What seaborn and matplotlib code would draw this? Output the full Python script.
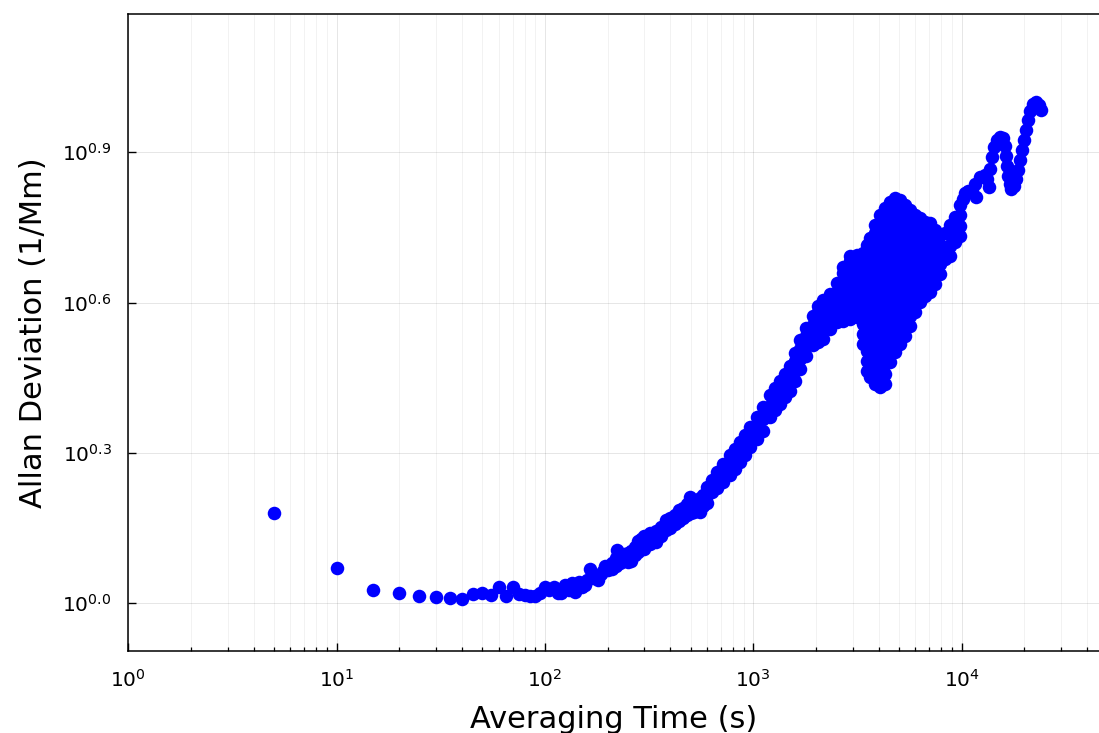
import numpy as np
import pandas as pd
import matplotlib
matplotlib.use("Agg")
import matplotlib.pyplot as plt
import seaborn as sns
from matplotlib.ticker import FixedLocator, FixedFormatter, NullLocator, LogLocator

# ---------------- data ----------------
# averaging time tau [s] and log10 of the Allan deviation [1/Mm]
# isolated points at short averaging times
tau_single = [5, 10, 15, 20, 25, 30, 35, 40, 45, 50, 55, 60, 65, 70, 75, 80, 85, 90, 95, 100,
              105, 110, 115, 120, 125, 130, 135, 140, 145, 150, 155, 160, 165, 170, 175, 180,
              185, 190, 195, 200]
log_single = [0.180, 0.070, 0.027, 0.021, 0.015, 0.013, 0.011, 0.009, 0.019, 0.021, 0.016, 0.033,
              0.014, 0.033, 0.018, 0.017, 0.014, 0.014, 0.020, 0.033,
              0.026, 0.033, 0.020, 0.020, 0.036, 0.026, 0.040, 0.023, 0.043, 0.033, 0.036, 0.046,
              0.069, 0.050, 0.056, 0.046, 0.058, 0.064, 0.074, 0.066]

# thick band / dense cloud: several readings per averaging time
tau_band = [210, 220, 222, 230, 240, 250, 260, 270, 280, 290, 300, 320, 340, 360, 380, 400, 420,
            440, 460, 480, 497, 500, 520, 554, 575, 600, 635, 670, 714, 771, 815, 861, 910, 962,
            1040, 1111, 1200, 1268, 1340, 1416, 1497, 1581, 1671, 1787, 1928, 2037, 2154, 2327,
            2513, 2686, 2904, 3135, 3350, 3500, 3620, 3826, 4043, 4273, 4516, 4772, 5043, 5330,
            5632, 5952, 6290, 6648, 7025, 7424, 7845, 8290, 8760, 9257, 9782]
log_band = [
    [0.068, 0.080], [0.074, 0.090], [0.106], [0.080, 0.096], [0.084, 0.098], [0.082, 0.100],
    [0.084, 0.104], [0.096, 0.112], [0.102, 0.124], [0.110, 0.128], [0.108, 0.134],
    [0.118, 0.140], [0.122, 0.144], [0.134, 0.152], [0.146, 0.166], [0.150, 0.170],
    [0.158, 0.176], [0.164, 0.186], [0.170, 0.190], [0.176, 0.198], [0.212], [0.180, 0.198],
    [0.182, 0.202], [0.182, 0.196, 0.210], [0.194, 0.216], [0.200, 0.216, 0.232],
    [0.222, 0.246], [0.230, 0.246, 0.262], [0.242, 0.262, 0.278], [0.256, 0.276, 0.296],
    [0.268, 0.288, 0.308], [0.282, 0.302, 0.322], [0.296, 0.316, 0.336],
    [0.312, 0.332, 0.352], [0.328, 0.350, 0.372], [0.344, 0.368, 0.392],
    [0.372, 0.394, 0.416], [0.386, 0.408, 0.430], [0.398, 0.420, 0.444],
    [0.412, 0.434, 0.458], [0.424, 0.448, 0.474], [0.444, 0.464, 0.484, 0.500],
    [0.468, 0.488, 0.508, 0.526], [0.494, 0.514, 0.534, 0.550],
    [0.516, 0.536, 0.556, 0.574], [0.522, 0.542, 0.562, 0.582, 0.594],
    [0.528, 0.548, 0.568, 0.588, 0.606], [0.548, 0.568, 0.588, 0.608, 0.618],
    [0.562, 0.582, 0.602, 0.622, 0.640],
    [0.564, 0.584, 0.604, 0.624, 0.644, 0.660, 0.672],
    [0.568, 0.588, 0.608, 0.628, 0.648, 0.668, 0.684, 0.694],
    [0.572, 0.592, 0.612, 0.632, 0.652, 0.672, 0.696],
    [0.518, 0.538, 0.558, 0.578, 0.598, 0.618, 0.638, 0.658, 0.678, 0.700],
    [0.464, 0.484, 0.504, 0.524, 0.544, 0.564, 0.584, 0.604, 0.624, 0.644, 0.664, 0.684,
     0.700, 0.716],
    [0.452, 0.472, 0.492, 0.512, 0.532, 0.552, 0.572, 0.592, 0.612, 0.632, 0.652, 0.672,
     0.692, 0.712, 0.728],
    [0.438, 0.458, 0.478, 0.498, 0.518, 0.538, 0.558, 0.578, 0.598, 0.618, 0.638, 0.658,
     0.678, 0.698, 0.718, 0.738, 0.754],
    [0.432, 0.452, 0.472, 0.492, 0.512, 0.532, 0.552, 0.572, 0.592, 0.612, 0.632, 0.652,
     0.672, 0.692, 0.712, 0.732, 0.752, 0.774],
    [0.438, 0.458, 0.478, 0.498, 0.518, 0.538, 0.558, 0.578, 0.598, 0.618, 0.638, 0.658,
     0.678, 0.698, 0.718, 0.738, 0.758, 0.774, 0.788],
    [0.482, 0.502, 0.522, 0.542, 0.562, 0.582, 0.602, 0.622, 0.642, 0.662, 0.682, 0.702,
     0.722, 0.742, 0.762, 0.782, 0.800],
    [0.502, 0.522, 0.542, 0.562, 0.582, 0.602, 0.622, 0.642, 0.662, 0.682, 0.702, 0.722,
     0.742, 0.762, 0.786, 0.808],
    [0.518, 0.538, 0.558, 0.578, 0.598, 0.618, 0.638, 0.658, 0.678, 0.698, 0.718, 0.738,
     0.758, 0.780, 0.804],
    [0.534, 0.554, 0.574, 0.594, 0.614, 0.634, 0.654, 0.674, 0.694, 0.714, 0.734, 0.754,
     0.774, 0.794],
    [0.554, 0.574, 0.594, 0.614, 0.634, 0.654, 0.674, 0.694, 0.714, 0.734, 0.754, 0.770,
     0.784],
    [0.582, 0.602, 0.622, 0.642, 0.662, 0.682, 0.702, 0.722, 0.742, 0.758, 0.774],
    [0.602, 0.622, 0.642, 0.662, 0.682, 0.702, 0.722, 0.742, 0.756, 0.768],
    [0.614, 0.634, 0.654, 0.674, 0.694, 0.714, 0.734, 0.748, 0.760],
    [0.622, 0.642, 0.662, 0.682, 0.702, 0.722, 0.742, 0.758],
    [0.638, 0.658, 0.678, 0.698, 0.718, 0.732, 0.744],
    [0.658, 0.678, 0.698, 0.716, 0.734],
    [0.688, 0.712, 0.738],
    [0.694, 0.714, 0.734, 0.754],
    [0.722, 0.746, 0.770],
    [0.732, 0.752, 0.774, 0.794],
]

# long averaging times: single oscillating trace
tau_trace = [10110, 10338, 10686, 11170, 11545, 11800, 12200, 12893, 13325, 13623, 13772,
             14083, 14398, 14883, 15385, 15903, 16255, 16435, 16617, 16801, 17179, 17370,
             17958, 18359, 18769, 19187, 19616, 20054, 20502, 20952, 21420, 22140, 22886,
             23660, 24190]
log_trace = [0.806, 0.818, 0.822, 0.822, 0.836, 0.810, 0.850, 0.854, 0.846, 0.830, 0.866,
             0.890, 0.910, 0.924, 0.930, 0.928, 0.912, 0.892, 0.872, 0.852, 0.836, 0.826,
             0.832, 0.846, 0.864, 0.884, 0.904, 0.924, 0.944, 0.964, 0.982, 0.996, 1.000,
             0.994, 0.984]

y_tick_exponents = [0.0, 0.3, 0.6, 0.9]
x_tick_exponents = [0, 1, 2, 3, 4]

# ---------------- assemble table ----------------
taus, logs = [], []
taus += tau_single
logs += log_single
for t, vals in zip(tau_band, log_band):
    for v in vals:
        taus.append(t)
        logs.append(v)
taus += tau_trace
logs += log_trace
df = pd.DataFrame({"tau": np.array(taus, dtype=float),
                   "adev": 10.0 ** np.array(logs, dtype=float)})

# ---------------- plot ----------------
sns.set_theme(style="white")
plt.rcParams["font.family"] = ["DejaVu Sans"]
plt.rcParams["mathtext.fontset"] = "dejavusans"

W, H = 1099, 733
fig = plt.figure(figsize=(W / 100, H / 100), dpi=100)
ax = fig.add_axes([128.3 / W, 1 - 651 / H, (W - 128.3) / W, (651 - 14) / H])

sns.scatterplot(data=df, x="tau", y="adev", color="#0000ff", s=95, linewidth=0,
                ax=ax, legend=False, zorder=3)

ax.set_xscale("log")
ax.set_yscale("log")
ax.set_xlim(1, 10 ** 4.660)
ax.set_ylim(10 ** -0.0952, 10 ** 1.176)

ax.xaxis.set_major_locator(FixedLocator([10.0 ** e for e in x_tick_exponents]))
ax.xaxis.set_major_formatter(FixedFormatter([r"$10^{%d}$" % e for e in x_tick_exponents]))
ax.xaxis.set_minor_locator(LogLocator(base=10, subs=np.arange(2, 10)))
ax.yaxis.set_major_locator(FixedLocator([10.0 ** e for e in y_tick_exponents]))
ax.yaxis.set_major_formatter(FixedFormatter([r"$10^{%.1f}$" % e for e in y_tick_exponents]))
ax.yaxis.set_minor_locator(NullLocator())

ax.set_axisbelow(True)
ax.grid(True, which="major", color="black", alpha=0.1, linewidth=0.7)
ax.grid(True, which="minor", axis="x", color="black", alpha=0.05, linewidth=0.7)

ax.tick_params(axis="both", which="major", direction="in", length=6, width=1.0,
               colors="black", labelsize=14.5, bottom=True, left=True,
               top=False, right=False)
ax.tick_params(axis="x", which="major", pad=13)
ax.tick_params(axis="y", which="major", pad=12)
ax.tick_params(axis="x", which="minor", direction="in", length=3.2, width=0.9,
               colors="black", bottom=True, top=False)

for side in ["top", "left", "bottom"]:
    ax.spines[side].set_visible(True)
    ax.spines[side].set_color("black")
    ax.spines[side].set_linewidth(1.1)
ax.spines["right"].set_visible(False)

ax.set_xlabel("Averaging Time (s)", fontsize=22, color="black", labelpad=10)
ax.set_ylabel("Allan Deviation (1/Mm)", fontsize=22, color="black", labelpad=10)

fig.savefig("out.png", dpi=100, facecolor="white")
